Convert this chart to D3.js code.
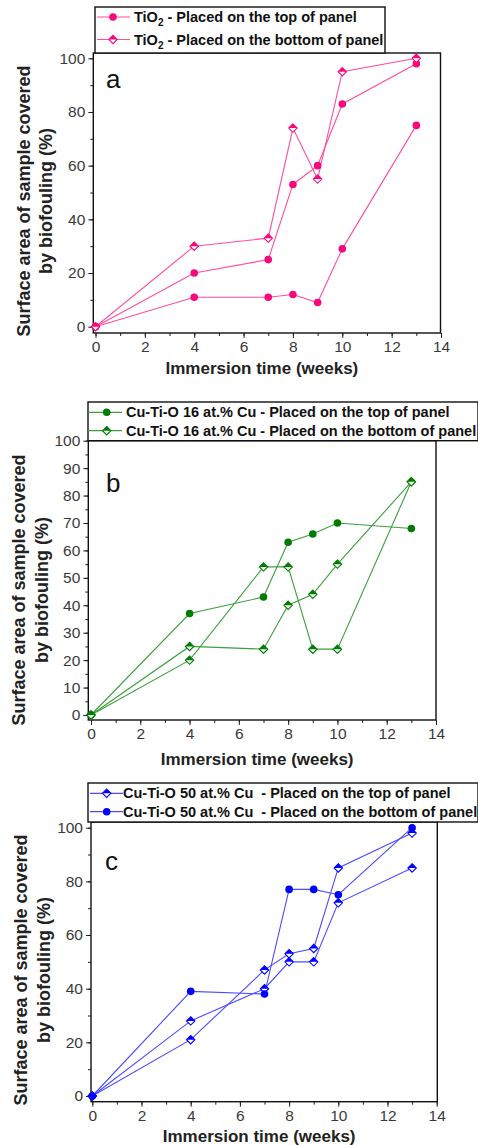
<!DOCTYPE html>
<html><head><meta charset="utf-8">
<script src="https://cdn.jsdelivr.net/npm/d3@7"></script>
<style>
body{margin:0;background:#fff}
svg{display:block}
text{font-family:"Liberation Sans",Arial,sans-serif}
</style>
</head><body>
<svg id="chart" width="478" height="1145"></svg>
<script>
// ---------- DATA ----------
const weeks = [0, 4, 7, 8, 9, 10, 13];
const xTickValues = [0, 2, 4, 6, 8, 10, 12, 14];

// panel a : TiO2
const tio2TopA   = [0, 20, 25, 53, 60, 83, 98];
const tio2TopB   = [0, 11, 11, 12, 9, 29, 75];
const tio2Bottom = [0, 30, 33, 74, 55, 95, 100];
const yTicksA = [0, 20, 40, 60, 80, 100];

// panel b : Cu-Ti-O 16 at.% Cu
const cu16Top     = [0, 37, 43, 63, 66, 70, 68];
const cu16BottomA = [0, 25, 24, 40, 44, 55, 85];
const cu16BottomB = [0, 20, 54, 54, 24, 24, 85];
const yTicksB = [0, 10, 20, 30, 40, 50, 60, 70, 80, 90, 100];

// panel c : Cu-Ti-O 50 at.% Cu
const cu50TopA   = [0, 21, 47, 53, 55, 85, 98];
const cu50TopB   = [0, 28, 40, 50, 50, 72, 85];
const cu50Bottom = [0, 39, 38, 77, 77, 75, 100];
const yTicksC = [0, 20, 40, 60, 80, 100];

const legendTextA = ["TiO|2| - Placed on the top of panel", "TiO|2| - Placed on the bottom of panel"];
const legendTextB = ["Cu-Ti-O 16 at.% Cu - Placed on the top of panel", "Cu-Ti-O 16 at.% Cu - Placed on the bottom of panel"];
const legendTextC = ["Cu-Ti-O 50 at.% Cu  - Placed on the top of panel", "Cu-Ti-O 50 at.% Cu  - Placed on the bottom of panel"];

const xTitle = "Immersion time (weeks)";
const yTitle = ["Surface area of sample covered", "by biofouling (%)"];

// ---------- LAYOUT ----------
const panels = [
  { letter: "a", frame: {l: 93.3, r: 440.5, t: 53, b: 333},
    xr: [95.5, 441], yr: [326.7, 58.3], yTicks: yTicksA, yMinorStep: 10,
    mk: "#f7087c", ln: "#ff4d9e",
    series: [
      {v: tio2TopA, m: "circle"}, {v: tio2TopB, m: "circle"}, {v: tio2Bottom, m: "diamond"}
    ],
    legend: {x0: 95, x1: 385, y0: 7, y1: 53, rows: [17, 39.5], lx0: 97, lx1: 130, mx: 113, tx: 134,
             items: [{t: legendTextA[0], m: "circle"}, {t: legendTextA[1], m: "diamond"}]},
    letterPos: [106, 88], xLabY: 351, xTitleY: 374, yTitleX: [30, 52], yTitleCY: 201 },
  { letter: "b", frame: {l: 88.3, r: 436, t: 440.7, b: 720},
    xr: [91, 436], yr: [715, 440.7], yTicks: yTicksB, yMinorStep: 5,
    mk: "#007d00", ln: "#3d9f3d",
    series: [
      {v: cu16Top, m: "circle"}, {v: cu16BottomA, m: "diamond"}, {v: cu16BottomB, m: "diamond"}
    ],
    legend: {x0: 88, x1: 478, y0: 402, y1: 440.7, rows: [412.3, 430.7], lx0: 88, lx1: 122, mx: 106.7, tx: 126,
             items: [{t: legendTextB[0], m: "circle"}, {t: legendTextB[1], m: "diamond"}]},
    letterPos: [106, 492], xLabY: 743, xTitleY: 765, yTitleX: [25, 48], yTitleCY: 590 },
  { letter: "c", frame: {l: 91, r: 437.3, t: 822, b: 1101.7},
    xr: [92.3, 436.7], yr: [1096, 827.7], yTicks: yTicksC, yMinorStep: 10,
    mk: "#0000ff", ln: "#4b4bff",
    series: [
      {v: cu50TopA, m: "diamond"}, {v: cu50TopB, m: "diamond"}, {v: cu50Bottom, m: "circle"}
    ],
    legend: {x0: 88, x1: 478, y0: 783, y1: 822, rows: [793.3, 811.7], lx0: 90, lx1: 123, mx: 106.7, tx: 123,
             items: [{t: legendTextC[0], m: "diamond"}, {t: legendTextC[1], m: "circle"}]},
    letterPos: [105, 870], xLabY: 1123, xTitleY: 1142, yTitleX: [27, 50], yTitleCY: 970 }
];

const svg = d3.select("#chart");

function drawMarker(g, type, x, y, col) {
  if (type === "circle") {
    g.append("circle").attr("cx", x).attr("cy", y).attr("r", 3.8).attr("fill", col);
  } else {
    const r = 4.2;
    const mg = g.append("g").attr("transform", `translate(${x},${y})`);
    mg.append("path").attr("d", `M0,${-r}L${r},0L0,${r}L${-r},0Z`)
      .attr("fill", "#fff").attr("stroke", col).attr("stroke-width", 1.1);
    mg.append("path").attr("d", `M${-r},0L0,${-r}L${r},0Z`).attr("fill", col);
  }
}

panels.forEach(p => {
  const g = svg.append("g");
  const x = d3.scaleLinear().domain([0, 14]).range(p.xr);
  const y = d3.scaleLinear().domain([0, 100]).range(p.yr);
  const f = p.frame;

  // minor ticks
  const xMinor = d3.range(0, 15, 1);
  const yMinor = d3.range(0, 100.1, p.yMinorStep);
  const xAxisMinor = d3.axisBottom(x).tickValues(xMinor).tickSize(3).tickFormat("");
  const yAxisMinor = d3.axisLeft(y).tickValues(yMinor).tickSize(3).tickFormat("");
  const xAxis = d3.axisBottom(x).tickValues(xTickValues).tickSize(5).tickPadding(3).tickFormat(d3.format("d"));
  const yAxis = d3.axisLeft(y).tickValues(p.yTicks).tickSize(5).tickPadding(3).tickFormat(d3.format("d"));

  [xAxisMinor, xAxis].forEach(a => {
    const ag = g.append("g").attr("transform", `translate(0,${f.b})`).call(a);
    ag.select(".domain").remove();
  });
  [yAxisMinor, yAxis].forEach(a => {
    const ag = g.append("g").attr("transform", `translate(${f.l},0)`).call(a);
    ag.select(".domain").remove();
  });
  g.selectAll(".tick line").attr("stroke", "#222").attr("stroke-width", 1);
  g.selectAll(".tick text").attr("font-size", 15.5).attr("fill", "#3a3a3a")
    .attr("font-family", '"Liberation Sans",Arial,sans-serif');

  // frame
  g.append("rect").attr("x", f.l).attr("y", f.t).attr("width", f.r - f.l).attr("height", f.b - f.t)
    .attr("fill", "none").attr("stroke", "#111").attr("stroke-width", 1.4);

  // lines
  const line = d3.line().x((d, i) => x(weeks[i])).y(d => y(d));
  p.series.forEach(s => {
    g.append("path").datum(s.v).attr("d", line).attr("fill", "none")
      .attr("stroke", p.ln).attr("stroke-width", 1.1);
  });
  p.series.forEach(s => {
    s.v.forEach((v, i) => drawMarker(g, s.m, x(weeks[i]), y(v), p.mk));
  });

  // legend
  const L = p.legend;
  g.append("rect").attr("x", L.x0).attr("y", L.y0).attr("width", L.x1 - L.x0).attr("height", L.y1 - L.y0)
    .attr("fill", "#fff").attr("stroke", "#111").attr("stroke-width", 1.4);
  L.items.forEach((it, i) => {
    const ry = L.rows[i];
    g.append("line").attr("x1", L.lx0).attr("x2", L.lx1).attr("y1", ry).attr("y2", ry)
      .attr("stroke", p.ln).attr("stroke-width", 1.2);
    drawMarker(g, it.m, L.mx, ry, p.mk);
    const t = g.append("text").attr("x", L.tx).attr("y", ry + 5).attr("font-size", 14.5)
      .attr("font-weight", "bold").attr("fill", "#111").style("white-space", "pre");
    const parts = it.t.split("|");
    if (parts.length === 3) {
      t.append("tspan").text(parts[0]);
      t.append("tspan").attr("font-size", 10).attr("dy", 4).text(parts[1]);
      t.append("tspan").attr("dy", -4).text(parts[2]);
    } else {
      t.text(it.t);
    }
  });

  // panel letter
  g.append("text").attr("x", p.letterPos[0]).attr("y", p.letterPos[1]).attr("font-size", 26)
    .attr("fill", "#111").text(p.letter);

  // axis titles
  g.append("text").attr("x", (f.l + f.r) / 2 - 5).attr("y", p.xTitleY).attr("text-anchor", "middle")
    .attr("font-size", 17).attr("font-weight", "bold").attr("fill", "#222").text(xTitle);
  yTitle.forEach((tt, i) => {
    g.append("text").attr("transform", `translate(${p.yTitleX[i]},${p.yTitleCY}) rotate(-90)`)
      .attr("text-anchor", "middle").attr("font-size", 18).attr("font-weight", "bold")
      .attr("fill", "#222").text(tt);
  });
});
</script>
</body></html>
